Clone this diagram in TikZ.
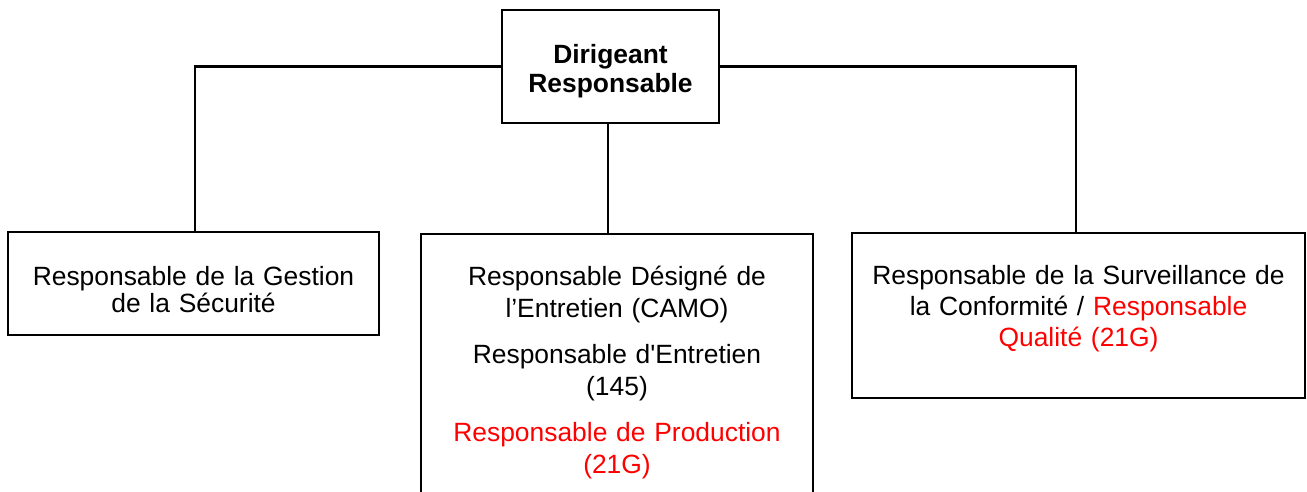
\documentclass[tikz,border=0pt]{standalone}
\usepackage{fontspec}
\setmainfont{Liberation Sans}[Ligatures=TeXOff]
\definecolor{qred}{RGB}{255,0,0}
\begin{document}
\begin{tikzpicture}[x=1pt,y=-1pt,
  box/.style 2 args={draw=black, line width=2pt, rectangle, inner sep=0pt,
    minimum width=#1, minimum height=#2},
  txt/.style 2 args={anchor=base, inner sep=0pt, text width=#1, align=center,
    font=\fontsize{26.4}{#2}\selectfont},
  link/.style={draw=black, line width=2.4pt}]
\useasboundingbox (0,0) rectangle (1307,492);
\clip (0,0) rectangle (1307,492);

% boxes
\node[box={217pt}{113pt}] (top) at (610.5,66.5) {};
\node[box={371pt}{103pt}] (gest) at (193.5,283.5) {};
\node[box={392pt}{286pt}] (mid) at (617,377) {};
\node[box={453pt}{165pt}] (conf) at (1078.5,315.5) {};

% texts
\node[txt={210pt}{29pt}, font=\fontsize{26.4}{29}\selectfont\bfseries] (toptxt) at (610.5,64)
  {Dirigeant\\Responsable};
\node[txt={360pt}{27pt}] (gesttxt) at (193.5,285)
  {Responsable de la Gestion\\de la Sécurité};
\node[txt={385pt}{32pt}] (midtxt) at (617,285)
  {Responsable Désigné de\\l’Entretien (CAMO)\\[14pt]
   Responsable d'Entretien\\(145)\\[14pt]
   \textcolor{qred}{Responsable de Production}\\\textcolor{qred}{(21G)}};
\node[txt={445pt}{31pt}] (conftxt) at (1078.5,284)
  {Responsable de la Surveillance de\\la Conformité / \textcolor{qred}{Responsable}\\\textcolor{qred}{Qualité (21G)}};

% connectors
\draw[link] (top.west) -| ([xshift=1.5pt]gest.north);
\draw[link] (top.east) -| ([xshift=-2.5pt]conf.north);
\draw[link] ([xshift=-2.5pt]top.south) -- ([xshift=-2.5pt]top.south |- mid.north);
\end{tikzpicture}
\end{document}
